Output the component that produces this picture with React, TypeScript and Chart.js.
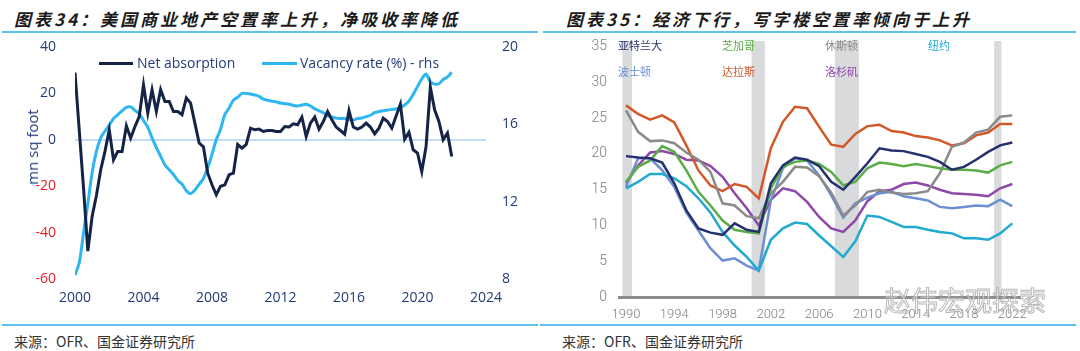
import React, { useEffect, useRef } from 'react';
import { Chart, registerables } from 'chart.js';

Chart.register(...registerables);

// ---------- Left chart data (quarterly, 2000Q1 - 2022Q1) ----------
const netAbsorption = [
  29, 4, -21, -48, -33, -24, -13, -5, 4.3, -8.6, -5, -5, 6, 0.7, 5.7, 10,
  23.7, 11.5, 21.6, 12.2, 21.6, 16.5, 16.5, 12.2, 12.2, 10.8, 18, 15.8, 7.2, -1.4, -3, -14.4,
  -19.4, -23.7, -20, -19.4, -15, -14.4, -2, -3.6, -2, 5, 4.3, 4.6, 3.6, 4, 4, 3.6,
  3.6, 5.7, 5.5, 6.9, 6.5, 9.8, 1.4, 7.2, 9.8, 4.6, 7.9, 12.2, 8.6, 5.5, 4, 2.4,
  12.6, 5.5, 4.6, 5.5, 7.2, 5.5, 2.6, 5, 9.3, 7.9, 5, 10.3, 15.4, 0.3, 3.2, -4.3,
  -5.7, -13.7, -2.9, 22.7, 12.9, 7.9, 0, 2.9, -7.2,
];
const vacancyRate = [
  8.2, 8.85, 10.4, 11.9, 13.5, 14.6, 15.3, 15.65, 15.95, 16.3, 16.5, 16.7, 16.88, 16.9, 16.72, 16.55,
  16.2, 15.85, 15.3, 14.8, 14.35, 13.9, 13.65, 13.4, 13.1, 12.9, 12.57, 12.42, 12.6, 12.9, 13.2, 13.75,
  14.45, 15.2, 15.75, 16.5, 16.85, 17.25, 17.4, 17.6, 17.6, 17.57, 17.52, 17.45, 17.3, 17.25, 17.2, 17.16,
  17.1, 17.07, 17.04, 16.98, 16.95, 17.0, 17.04, 16.95, 16.8, 16.7, 16.6, 16.45, 16.38, 16.32, 16.3, 16.3,
  16.25, 16.22, 16.3, 16.33, 16.4, 16.47, 16.6, 16.66, 16.7, 16.74, 16.77, 16.8, 16.88, 17.0, 17.2, 17.55,
  17.95, 18.35, 18.6, 18.2, 18.08, 18.1, 18.32, 18.45, 18.7,
];
const startYear = 2000;
const leftYearTicks = [2000, 2004, 2008, 2012, 2016, 2020, 2024];

// ---------- Right chart data (annual, 1990 - 2022) ----------
const cityYears = [
  1990, 1991, 1992, 1993, 1994, 1995, 1996, 1997, 1998, 1999, 2000, 2001, 2002, 2003, 2004, 2005, 2006,
  2007, 2008, 2009, 2010, 2011, 2012, 2013, 2014, 2015, 2016, 2017, 2018, 2019, 2020, 2021, 2022,
];
const atlanta = [19.7, 19.5, 19.4, 18.8, 15.9, 12.1, 9.6, 9.0, 8.7, 10.3, 9.4, 9.1, 15.9, 18.4, 19.5, 19.2, 18.3, 16.1, 15.0, 16.8, 18.7, 20.8, 20.5, 20.4, 20.0, 19.6, 18.9, 17.8, 18.2, 19.2, 20.3, 21.2, 21.6];
const chicago = [16.1, 18.2, 19.1, 21.1, 20.3, 17.7, 14.7, 12.8, 10.7, 9.4, 9.1, 8.9, 15.2, 18.2, 18.9, 19.1, 18.6, 17.5, 15.6, 16.1, 18.0, 18.8, 18.6, 18.3, 18.6, 18.3, 18.0, 17.8, 17.8, 17.7, 17.4, 18.4, 18.9];
const houston = [26.1, 23.1, 21.8, 21.9, 21.5, 20.2, 19.2, 17.5, 13.1, 12.8, 11.3, 11.0, 14.5, 16.1, 18.2, 18.1, 16.9, 14.6, 11.4, 12.8, 14.7, 15.0, 14.6, 14.4, 14.5, 14.8, 17.3, 21.0, 21.6, 23.0, 23.4, 25.2, 25.4];
const newYork = [15.2, 16.1, 17.2, 17.2, 16.6, 15.5, 13.8, 11.8, 9.1, 7.2, 5.6, 3.7, 8.0, 9.6, 10.4, 10.2, 8.6, 7.1, 5.6, 7.8, 11.4, 11.2, 10.5, 9.8, 9.8, 9.4, 9.1, 8.9, 8.2, 8.2, 8.0, 8.9, 10.3];
const boston = [15.4, 19.4, 19.4, 17.7, 15.4, 11.8, 9.3, 6.8, 5.1, 5.4, 4.4, 3.7, 13.5, 18.0, 19.4, 19.1, 17.0, 14.2, 11.1, 13.1, 13.9, 14.5, 14.7, 14.1, 13.8, 13.5, 12.6, 12.4, 12.6, 12.8, 12.7, 13.6, 12.7];
const dallas = [26.8, 25.6, 24.8, 25.4, 24.4, 21.2, 17.7, 15.6, 14.8, 15.8, 15.4, 13.8, 20.8, 24.5, 26.6, 26.4, 23.8, 21.3, 21.0, 22.8, 23.9, 24.1, 23.2, 23.0, 22.5, 22.3, 21.9, 21.2, 21.5, 22.6, 23.0, 24.2, 24.2];
const losAngeles = [15.9, 18.4, 20.2, 20.4, 20.0, 19.2, 19.1, 18.3, 16.8, 14.5, 12.4, 10.0, 13.6, 15.2, 14.8, 13.3, 11.2, 9.6, 9.1, 10.7, 13.4, 14.8, 15.0, 15.8, 16.0, 15.6, 15.0, 14.5, 14.4, 14.3, 14.1, 15.2, 15.8];
const rightYearTicks = [1990, 1994, 1998, 2002, 2006, 2010, 2014, 2018, 2022];
const rightValueTicks = [0, 5, 10, 15, 20, 25, 30, 35];
const recessionStart = [1989.7, 2000.4, 2007.3, 2020.5];
const recessionEnd = [1990.5, 2001.5, 2009.3, 2021.1];
const recessionTop = 35.8;

const cityNames = ['亚特兰大', '芝加哥', '休斯顿', '纽约', '波士顿', '达拉斯', '洛杉矶'];
const citySeries = [atlanta, chicago, houston, newYork, boston, dallas, losAngeles];
const cityColors = ['#25306f', '#5aad47', '#8a8a8a', '#22a9cf', '#6d8fd3', '#d2582a', '#8e48a8'];

const NAVY_LINE = '#152347';
const LIGHT_BLUE = '#2db6f1';
const NAVY_TXT = '#203c78';
const RED_TXT = '#ec1c24';
const ZERO_LINE = '#c3dcf6';
const RULE = '#5dc3ee';

function LeftChart() {
  const ref = useRef<HTMLCanvasElement>(null);
  useEffect(() => {
    const qx = netAbsorption.map((_, i) => startYear + i / 4);
    const font = { family: '"Open Sans", sans-serif', size: 14 };
    const chart = new Chart(ref.current!, {
      type: 'line',
      data: {
        datasets: [
          {
            label: 'Net absorption',
            data: netAbsorption.map((v, i) => ({ x: qx[i], y: v })),
            borderColor: NAVY_LINE,
            borderWidth: 3,
            pointRadius: 0,
            tension: 0,
            yAxisID: 'y',
          },
          {
            label: 'Vacancy rate (%) - rhs',
            data: vacancyRate.map((v, i) => ({ x: qx[i], y: v })),
            borderColor: LIGHT_BLUE,
            borderWidth: 3,
            pointRadius: 0,
            tension: 0.3,
            yAxisID: 'y1',
          },
        ],
      },
      options: {
        responsive: false,
        animation: false,
        layout: { padding: { top: 12, bottom: 16, left: 0, right: 0 } },
        plugins: { legend: { display: false }, tooltip: { enabled: false } },
        scales: {
          x: {
            type: 'linear',
            min: 2000,
            max: 2024,
            afterBuildTicks: (s: any) => {
              s.ticks = leftYearTicks.map((v) => ({ value: v }));
            },
            afterFit: (s: any) => {
              s.height = 30;
            },
            ticks: { callback: (v: any) => String(v), color: NAVY_TXT, font, padding: 11, maxRotation: 0, autoSkip: false },
            grid: { display: false, drawTicks: false },
            border: { display: false },
          },
          y: {
            position: 'left',
            min: -60,
            max: 40,
            afterFit: (s: any) => {
              s.width = 75;
              s.paddingTop = 0;
              s.paddingBottom = 0;
            },
            ticks: {
              stepSize: 20,
              color: (c: any) => (c.tick && c.tick.value < 0 ? RED_TXT : NAVY_TXT),
              font,
              padding: 19,
            },
            grid: {
              drawTicks: false,
              lineWidth: 2,
              color: (c: any) => (c.tick && c.tick.value === 0 ? ZERO_LINE : 'rgba(0,0,0,0)'),
            },
            border: { display: false },
          },
          y1: {
            position: 'right',
            min: 8,
            max: 20,
            afterFit: (s: any) => {
              s.width = 54;
              s.paddingTop = 0;
              s.paddingBottom = 0;
            },
            ticks: { stepSize: 4, color: NAVY_TXT, font, padding: 16 },
            grid: { display: false, drawTicks: false },
            border: { display: false },
          },
        },
      },
    } as any);
    return () => chart.destroy();
  }, []);
  return <canvas ref={ref} width={540} height={290} style={{ position: 'absolute', left: 0, top: 35 }} />;
}

const recessionPlugin = {
  id: 'recessions',
  beforeDraw(chart: any) {
    const { ctx, scales } = chart;
    const x = scales.x;
    const y = scales.y;
    ctx.save();
    ctx.fillStyle = '#d9dadc';
    recessionStart.forEach((s, k) => {
      const x0 = x.getPixelForValue(s);
      const x1 = x.getPixelForValue(recessionEnd[k]);
      const yt = y.getPixelForValue(recessionTop);
      const yb = y.getPixelForValue(0);
      ctx.fillRect(x0, yt, x1 - x0, yb - yt);
    });
    ctx.restore();
  },
};

function RightChart() {
  const ref = useRef<HTMLCanvasElement>(null);
  useEffect(() => {
    const font = { family: 'Roboto, "Open Sans", sans-serif', size: 13, weight: '300' };
    const chart = new Chart(ref.current!, {
      type: 'line',
      data: {
        datasets: citySeries.map((s, k) => ({
          label: cityNames[k],
          data: s.map((v, i) => ({ x: cityYears[i], y: v })),
          borderColor: cityColors[k],
          borderWidth: 2.5,
          pointRadius: 0,
          tension: 0,
        })),
      },
      options: {
        responsive: false,
        animation: false,
        layout: { padding: { top: 6, bottom: 0, left: 0, right: 60 } },
        plugins: { legend: { display: false }, tooltip: { enabled: false } },
        scales: {
          x: {
            type: 'linear',
            min: 1989.42,
            max: 2022.64,
            afterBuildTicks: (s: any) => {
              s.ticks = rightYearTicks.map((v) => ({ value: v }));
            },
            afterFit: (s: any) => {
              s.height = 28;
            },
            ticks: { callback: (v: any) => String(v), color: '#7f7f7f', font, padding: 10, maxRotation: 0, autoSkip: false },
            grid: { display: false, drawTicks: false },
            border: { display: true, color: '#8c8c8c', width: 3 },
          },
          y: {
            min: 0,
            max: recessionTop,
            afterBuildTicks: (s: any) => {
              s.ticks = rightValueTicks.map((v) => ({ value: v }));
            },
            afterFit: (s: any) => {
              s.width = 79;
              s.paddingTop = 0;
              s.paddingBottom = 0;
            },
            ticks: { color: '#7f7f7f', font: { ...font, size: 14 }, padding: 12 },
            grid: { display: false, drawTicks: false },
            border: { display: false },
          },
        },
      },
      plugins: [recessionPlugin],
    } as any);
    return () => chart.destroy();
  }, []);
  return <canvas ref={ref} width={540} height={290} style={{ position: 'absolute', left: 540, top: 35 }} />;
}

const titleStyle: React.CSSProperties = {
  position: 'absolute',
  top: 6,
  fontFamily: '"Noto Sans CJK SC", sans-serif',
  fontSize: 17,
  fontWeight: 700,
  fontStyle: 'italic',
  letterSpacing: 3,
  color: '#1a1a1a',
  whiteSpace: 'nowrap',
  lineHeight: '26px',
};
const sourceStyle: React.CSSProperties = {
  position: 'absolute',
  top: 331,
  fontFamily: '"Noto Sans CJK SC", sans-serif',
  fontSize: 14,
  color: '#333',
  whiteSpace: 'nowrap',
  lineHeight: '20px',
};
const rule = (left: number, top: number, width: number): React.CSSProperties => ({
  position: 'absolute',
  left,
  top,
  width,
  height: 2,
  background: RULE,
});

export default function App() {
  const legendFont = '"Open Sans", sans-serif';
  const cityPos = [
    [618, 38],
    [722, 38],
    [825, 38],
    [928, 38],
    [618, 64],
    [722, 64],
    [825, 64],
  ];
  return (
    <div style={{ position: 'absolute', left: 0, top: 0, width: 1080, height: 351, background: '#fff', overflow: 'hidden' }}>
      <div style={{ ...titleStyle, left: 14 }}>图表34：美国商业地产空置率上升，净吸收率降低</div>
      <div style={{ ...titleStyle, left: 566 }}>图表35：经济下行，写字楼空置率倾向于上升</div>
      <div style={rule(2, 31, 536)} />
      <div style={rule(543, 31, 533)} />
      <LeftChart />
      <RightChart />
      {/* left legend */}
      <div style={{ position: 'absolute', left: 99, top: 62, width: 34, height: 3, background: NAVY_LINE }} />
      <div style={{ position: 'absolute', left: 137, top: 53, fontFamily: legendFont, fontSize: 14, color: NAVY_TXT, lineHeight: '20px', whiteSpace: 'nowrap' }}>Net absorption</div>
      <div style={{ position: 'absolute', left: 262, top: 62, width: 35, height: 3, background: LIGHT_BLUE }} />
      <div style={{ position: 'absolute', left: 300, top: 53, fontFamily: legendFont, fontSize: 14, color: NAVY_TXT, lineHeight: '20px', whiteSpace: 'nowrap' }}>Vacancy rate (%) - rhs</div>
      {/* left axis title */}
      <div
        style={{
          position: 'absolute',
          left: 32,
          top: 147,
          transform: 'translate(-50%, -50%) rotate(-90deg)',
          fontFamily: legendFont,
          fontSize: 15,
          color: NAVY_TXT,
          whiteSpace: 'nowrap',
          lineHeight: '20px',
        }}
      >
        mn sq foot
      </div>
      {/* right legend */}
      {cityNames.map((n, k) => (
        <div
          key={n}
          style={{
            position: 'absolute',
            left: cityPos[k][0],
            top: cityPos[k][1],
            fontFamily: '"Noto Sans CJK SC", sans-serif',
            fontSize: 11,
            lineHeight: '14px',
            color: cityColors[k],
            whiteSpace: 'nowrap',
          }}
        >
          {n}
        </div>
      ))}
      {/* watermark */}
      <div
        style={{
          position: 'absolute',
          left: 884,
          top: 283,
          fontFamily: '"Noto Sans CJK SC", sans-serif',
          fontSize: 27,
          lineHeight: '34px',
          color: 'rgba(255,255,255,0.5)',
          WebkitTextStroke: '1px rgba(160,160,160,0.75)',
          whiteSpace: 'nowrap',
        } as any}
      >
        赵伟宏观探索
      </div>
      <div style={rule(2, 324, 536)} />
      <div style={rule(540, 324, 536)} />
      <div style={{ ...sourceStyle, left: 14 }}>来源：OFR、国金证券研究所</div>
      <div style={{ ...sourceStyle, left: 562 }}>来源：OFR、国金证券研究所</div>
    </div>
  );
}
